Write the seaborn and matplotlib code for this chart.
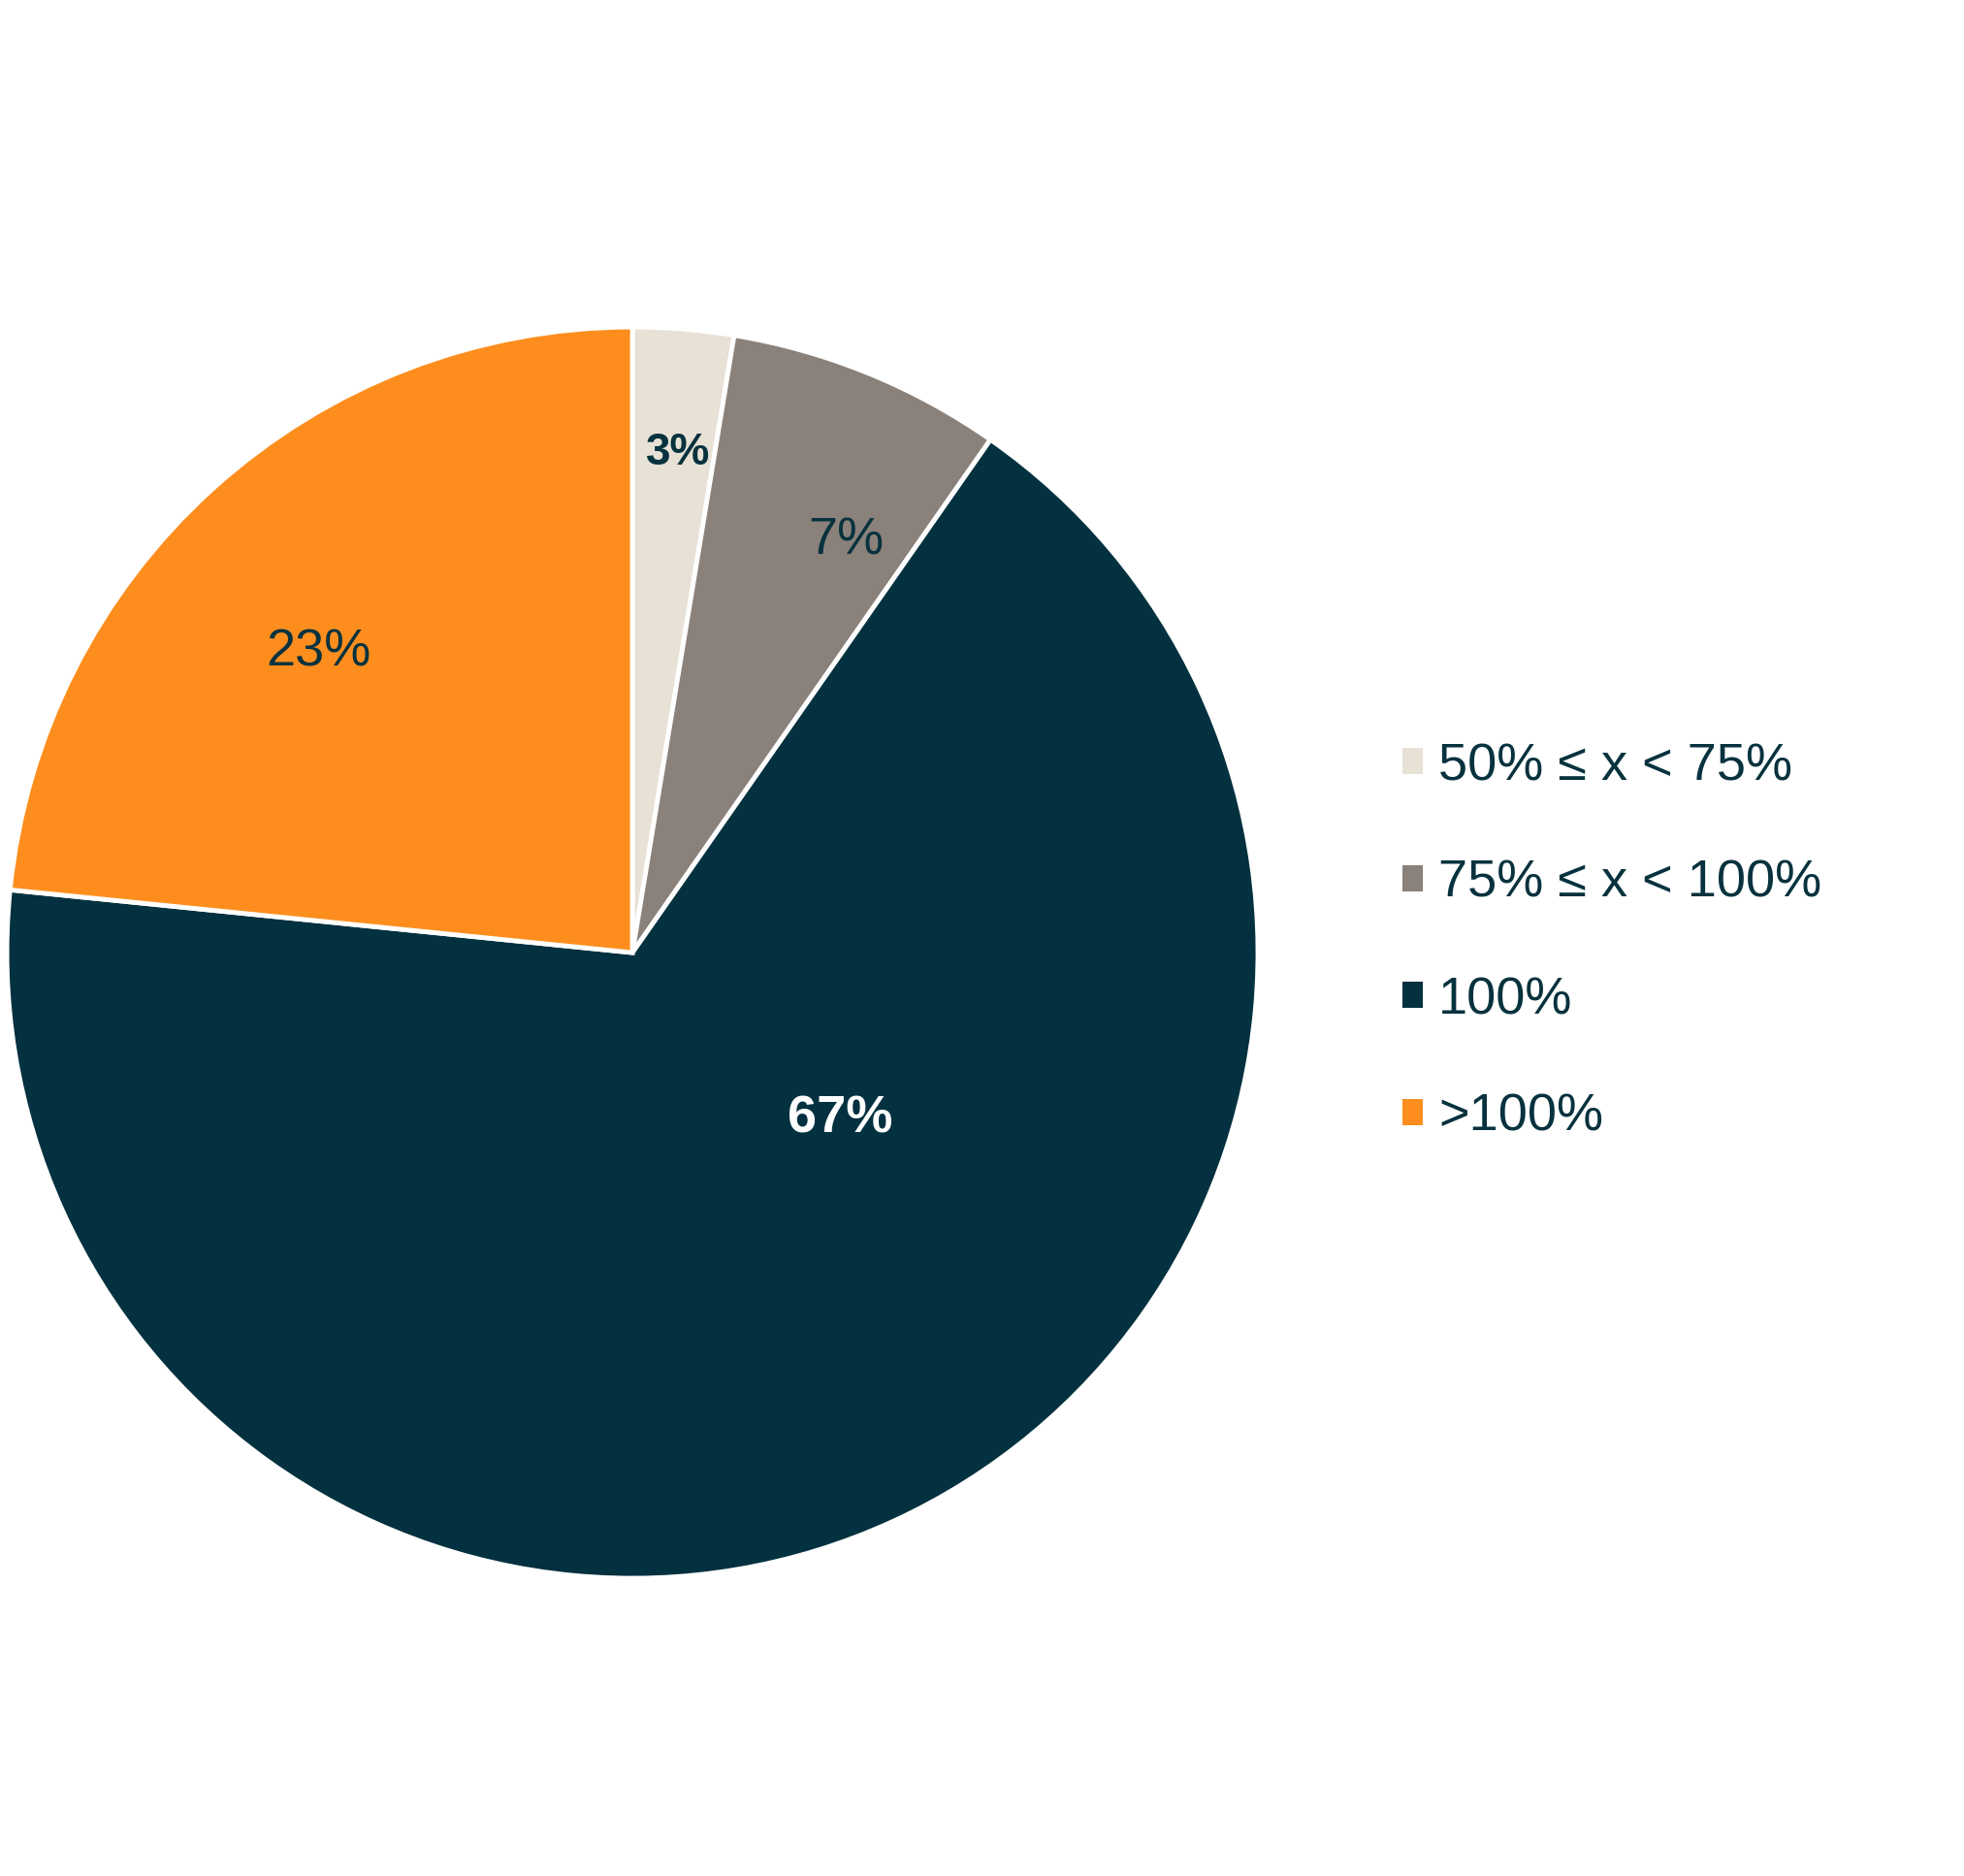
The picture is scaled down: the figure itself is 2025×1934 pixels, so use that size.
import numpy as np
import seaborn as sns
import matplotlib.pyplot as plt

# data
categories = ["50% \u2264 x < 75%", "75% \u2264 x < 100%", "100%", ">100%"]
shares = [2.6, 7.1, 66.9, 23.4]
colors = ["#E8E1D6", "#8A817A", "#03313F", "#FD8E1E"]

sns.set_theme(style="white")
plt.rcParams["font.family"] = ["Liberation Sans", "DejaVu Sans"]

text_col = "#07323E"

fig = plt.figure(figsize=(20.25, 19.34), dpi=100)
ax = fig.add_axes([0.0035, 0.1587, 0.637, 0.667])

wedges, texts, autotexts = ax.pie(
    shares,
    colors=colors,
    startangle=90,
    counterclock=False,
    radius=1,
    autopct=lambda p: f"{p:.0f}%",
    pctdistance=0.7,
    wedgeprops=dict(edgecolor="white", linewidth=3.5),
    textprops=dict(fontsize=39, color=text_col),
)
ax.set_xlim(-1, 1)
ax.set_ylim(-1, 1)
ax.set_aspect("equal")
ax.axis("off")

# label placement (Excel "best fit" style): radius and angle shift per slice
lab_r = [0.81, 0.75, 0.42, 0.70]
lab_shift = [-0.5, -5.0, 27.5, 3.7]
lab_weight = ["bold", "normal", "bold", "normal"]
lab_size = [33, 39, 39, 39]
lab_color = [text_col, text_col, "white", text_col]
for w, t, r, s, fw, fs, c in zip(wedges, autotexts, lab_r, lab_shift,
                                 lab_weight, lab_size, lab_color):
    a = np.deg2rad((w.theta1 + w.theta2) / 2 + s)
    t.set_position((r * np.cos(a), r * np.sin(a)))
    t.set_fontweight(fw)
    t.set_fontsize(fs)
    t.set_color(c)
    t.set_ha("center")
    t.set_va("center_baseline")

leg = fig.legend(
    wedges,
    categories,
    loc="center left",
    bbox_to_anchor=(0.714, 0.498),
    frameon=False,
    fontsize=39,
    handlelength=0.39,
    handleheight=0.39,
    handletextpad=0.3,
    labelspacing=1.3,
    borderpad=0,
    borderaxespad=0,
)
for t in leg.get_texts():
    t.set_color(text_col)
for h in leg.legend_handles:
    h.set_linewidth(0)

fig.savefig("out.png", dpi=100, facecolor="white")
